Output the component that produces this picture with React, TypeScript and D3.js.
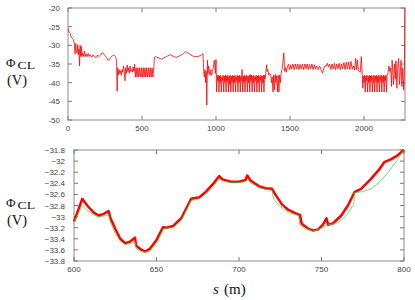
import React from "react";
import * as d3 from "d3";

// top panel: full ring, s (m) vs potential (V)
const topData: [number, number][] = [
  [0, -25.5], [8, -26.5], [15, -26.8], [22, -27.8], [30, -28.2], [38, -28.5], [44, -30], [48, -32.3],
  [52, -29.5], [56, -31.5], [62, -32], [66, -29.8], [70, -32.5], [74, -31], [78, -35.5], [82, -30],
  [86, -33], [90, -30.3], [95, -33], [100, -32], [106, -33], [112, -31.5], [118, -33], [124, -32.3],
  [130, -33], [136, -32.2], [142, -33], [150, -32.5], [160, -33.2], [170, -32.5], [180, -33], [190, -33.3],
  [200, -32.6], [210, -33], [220, -32.6], [230, -32], [240, -32.2], [250, -32.8], [260, -33.2], [270, -34],
  [280, -33.8], [290, -33.2], [300, -32.8], [310, -32.6], [320, -33], [328, -34], [332, -42.3], [336, -36],
  [340, -38], [345, -36.5], [350, -37.5], [355, -36.8], [360, -38], [365, -36.5], [370, -37.2], [375, -35.5],
  [380, -37], [385, -39.5], [390, -36], [395, -37.5], [400, -35.3], [405, -37], [410, -36], [415, -37.5],
  [420, -35.5], [425, -37], [430, -36.5], [435, -37.2], [440, -35.8], [445, -37], [450, -35], [455, -38.5],
  [460, -36], [466, -38.5], [472, -36], [478, -38.5], [484, -36], [490, -38.5], [496, -36], [502, -38.5],
  [508, -36], [514, -38.5], [520, -36], [526, -38.5], [532, -36], [538, -38.5], [544, -36], [550, -38.5],
  [556, -36], [562, -38.5], [568, -36], [574, -38.5], [580, -36], [584, -33.2], [590, -33], [600, -33.2],
  [615, -33.4], [630, -33.7], [645, -33.4], [660, -33.1], [675, -32.8], [690, -32.5], [705, -32.8], [720, -33.1],
  [735, -33.2], [750, -32.9], [765, -32.6], [780, -32.2], [795, -31.7], [810, -32], [825, -32.4], [840, -32.8],
  [855, -33], [870, -33], [885, -32.9], [900, -32.6], [912, -32.2], [918, -37.5], [922, -38.5], [926, -36.5],
  [930, -40], [934, -37], [938, -46], [942, -34], [946, -37.5], [950, -35.5], [955, -37], [960, -38],
  [965, -36.5], [970, -38], [975, -37], [982, -36], [988, -34], [992, -35.5], [996, -37.5], [1000, -33.8],
  [1004, -42.5], [1008, -38], [1012, -39.5], [1016, -38], [1020, -42.5], [1024, -38.2], [1028, -40], [1032, -38],
  [1036, -42.5], [1040, -38.5], [1044, -39.5], [1048, -38], [1052, -42.5], [1056, -38.2], [1060, -40], [1064, -38],
  [1068, -42.5], [1072, -38.3], [1076, -39.5], [1080, -38], [1084, -42.5], [1088, -38.2], [1092, -40.5], [1096, -38],
  [1100, -42.5], [1104, -38.3], [1108, -39.8], [1112, -38], [1116, -42.5], [1120, -38.2], [1124, -40], [1128, -38],
  [1132, -42.5], [1136, -38.4], [1140, -39.5], [1144, -38], [1148, -42.5], [1152, -38.2], [1156, -40], [1160, -38],
  [1164, -42.5], [1168, -38.3], [1172, -39.5], [1176, -36.5], [1180, -42.5], [1184, -38.2], [1188, -40], [1192, -38],
  [1196, -42.5], [1200, -38.3], [1204, -39.5], [1208, -38], [1212, -42.5], [1216, -38.2], [1220, -40], [1224, -38],
  [1228, -42.5], [1232, -37.8], [1236, -39.5], [1240, -38], [1244, -42.5], [1248, -38.2], [1252, -40], [1256, -38],
  [1260, -42.5], [1264, -38.3], [1268, -39.5], [1272, -38], [1276, -42.5], [1280, -38.2], [1284, -40], [1288, -38],
  [1292, -42.5], [1296, -38.3], [1300, -39.5], [1304, -38], [1308, -42.5], [1312, -38.2], [1316, -40], [1320, -38],
  [1324, -42.5], [1328, -38], [1332, -39], [1336, -37.5], [1342, -35.2], [1346, -37], [1350, -36.5], [1356, -38],
  [1362, -37.5], [1370, -38], [1375, -40], [1380, -38.5], [1385, -42.5], [1390, -38], [1395, -42], [1400, -37.8],
  [1405, -40], [1410, -38.2], [1415, -42.5], [1420, -38], [1425, -42.5], [1430, -38], [1435, -40], [1440, -37.5],
  [1446, -36.5], [1452, -34.5], [1458, -32], [1464, -37], [1470, -36], [1476, -37.2], [1482, -35.8], [1490, -35],
  [1497, -36.5], [1505, -35.2], [1512, -36.3], [1520, -35], [1528, -36.5], [1536, -35], [1544, -36.3], [1552, -35],
  [1560, -36.5], [1568, -35.1], [1576, -36.3], [1584, -35], [1592, -36.5], [1600, -35], [1608, -36.3], [1616, -35],
  [1624, -36.5], [1632, -35.1], [1640, -36.3], [1648, -35], [1656, -36.5], [1664, -35.2], [1672, -36.3], [1680, -35.5],
  [1690, -36.5], [1700, -35.5], [1710, -36.5], [1720, -37.5], [1728, -36.2], [1736, -35.5], [1744, -35.6], [1752, -34.8],
  [1760, -35.8], [1768, -35], [1776, -36.5], [1784, -35], [1792, -36.3], [1800, -34.8], [1808, -36.5], [1816, -35],
  [1824, -36.3], [1832, -34.8], [1840, -36.5], [1848, -35], [1856, -36.3], [1864, -34.6], [1872, -36.5], [1880, -34.5],
  [1888, -36.3], [1896, -34.5], [1904, -36.5], [1912, -34.3], [1920, -36.4], [1928, -35.5], [1936, -36.6], [1944, -33.5],
  [1950, -36.5], [1956, -34], [1962, -36.8], [1968, -37], [1975, -37.2], [1982, -33], [1988, -38], [1992, -41.5],
  [1996, -38.2], [2000, -40], [2004, -38], [2008, -42.5], [2012, -38.2], [2016, -39.5], [2020, -38], [2024, -42.5],
  [2028, -38.3], [2032, -40], [2036, -38], [2040, -42.5], [2044, -38.2], [2048, -39.5], [2052, -38], [2056, -42.5],
  [2060, -38.3], [2064, -40], [2068, -38], [2072, -42.5], [2076, -38.2], [2080, -39.5], [2084, -38], [2088, -42.5],
  [2092, -38.3], [2096, -40], [2100, -38], [2104, -42.5], [2108, -38.2], [2112, -39.5], [2116, -38], [2120, -42.5],
  [2124, -38.3], [2128, -40], [2132, -38], [2136, -42.5], [2140, -38.2], [2144, -39.5], [2148, -38], [2152, -42.5],
  [2156, -38], [2162, -37.5], [2168, -35.5], [2174, -37], [2180, -36], [2186, -41], [2190, -34], [2196, -38],
  [2200, -40.5], [2206, -35], [2212, -39], [2216, -34.2], [2222, -41.5], [2228, -36], [2234, -33.5], [2240, -40.5],
  [2246, -37], [2250, -34], [2256, -41], [2262, -36], [2268, -42], [2273, -37], [2276, -20],
];

// bottom panel: zoom on 600-800 m
const lowS = [
  600, 605, 608, 612, 615, 618, 621, 622, 625, 628, 631, 634, 637, 637.6, 640, 643, 646, 650, 654, 656,
  660, 665, 671, 676, 680, 684, 688, 690, 695, 700, 704, 705, 707, 712, 716, 720, 722, 726, 730, 735,
  737, 738, 742, 745, 748, 751, 753, 754, 757, 762, 766, 770, 774, 780, 785, 788, 792, 796, 800,
];
const redV = [
  -33.09, -32.68, -32.8, -32.93, -32.98, -32.95, -32.9, -33.02, -33.22, -33.4, -33.48, -33.45, -33.38, -33.52, -33.58, -33.63, -33.58, -33.42, -33.19, -33.2,
  -33.17, -33.03, -32.68, -32.65, -32.55, -32.42, -32.27, -32.33, -32.37, -32.37, -32.34, -32.26, -32.35, -32.45, -32.49, -32.5, -32.6, -32.78, -32.88, -32.95,
  -32.97, -33.13, -33.22, -33.25, -33.23, -33.14, -33.03, -33.15, -33.12, -32.98, -32.8, -32.56, -32.5, -32.32, -32.15, -32.02, -31.97, -31.9, -31.8,
];
const greenS = [
  600, 605, 608, 612, 615, 618, 621, 622, 625, 628, 631, 634, 637, 637.6, 640, 643, 646, 650, 654, 656,
  660, 665, 671, 676, 680, 684, 688, 690, 695, 700, 704, 705, 707, 712, 716, 720, 721, 725, 730, 736,
  737, 740, 745, 750, 754, 760, 765, 769.5, 770, 775, 780, 785, 790, 795, 800,
];
const greenV = [
  -33.11, -32.8, -32.89, -32.97, -33.01, -32.99, -32.97, -33.1, -33.3, -33.44, -33.5, -33.49, -33.45, -33.57, -33.62, -33.64, -33.62, -33.49, -33.23, -33.21,
  -33.2, -33.07, -32.71, -32.68, -32.59, -32.47, -32.32, -32.36, -32.39, -32.39, -32.37, -32.33, -32.39, -32.48, -32.51, -32.53, -32.68, -32.82, -32.93, -32.98,
  -33.16, -33.21, -33.26, -33.21, -33.15, -33.11, -32.98, -32.78, -32.57, -32.55, -32.5, -32.38, -32.22, -32.02, -31.8,
];

const topXTicks = [0, 500, 1000, 1500, 2000];
const topYTicks = [-20, -25, -30, -35, -40, -45, -50];
const lowXTicks = [600, 650, 700, 750, 800];
const lowYTicks = [-31.8, -32, -32.2, -32.4, -32.6, -32.8, -33, -33.2, -33.4, -33.6, -33.8];

const tickFont = "Liberation Sans, Arial, sans-serif";
const serif = "Liberation Serif, DejaVu Serif, serif";

function Frame({ x, y, yFmt, xTicks, yTicks, labelGap }: any) {
  const [x0, x1] = x.range();
  const [y1, y0] = y.range();
  const t = 4;
  return (
    <g>
      <rect x={x0} y={y0} width={x1 - x0} height={y1 - y0} fill="none" stroke="#8c8c8c" strokeWidth={1} />
      {xTicks.map((v: number) => (
        <g key={"x" + v}>
          <line x1={x(v)} x2={x(v)} y1={y1} y2={y1 - t} stroke="#777" />
          <line x1={x(v)} x2={x(v)} y1={y0} y2={y0 + t} stroke="#777" />
          <text x={x(v)} y={y1 + 11} textAnchor="middle" fontSize={8} fontFamily={tickFont} fill="#444">
            {v}
          </text>
        </g>
      ))}
      {yTicks.map((v: number) => (
        <g key={"y" + v}>
          <line x1={x0} x2={x0 + t} y1={y(v)} y2={y(v)} stroke="#777" />
          <line x1={x1} x2={x1 - t} y1={y(v)} y2={y(v)} stroke="#777" />
          <text x={x0 - labelGap} y={y(v) + 3} textAnchor="end" fontSize={8} fontFamily={tickFont} fill="#444">
            {yFmt(v)}
          </text>
        </g>
      ))}
    </g>
  );
}

function YLabel({ y }: { y: number }) {
  return (
    <g fontFamily={serif} fill="#111">
      <text x={6} y={y} fontSize={13}>Φ</text>
      <text x={17.5} y={y + 2} fontSize={9.5} textLength={17.5} lengthAdjust="spacingAndGlyphs">CL</text>
      <text x={7} y={y + 18} fontSize={14.5}>(V)</text>
    </g>
  );
}

export default function App() {
  const xTop = d3.scaleLinear().domain([0, 2277]).range([68, 405]);
  const yTop = d3.scaleLinear().domain([-50, -20]).range([120, 8]);
  const xLow = d3.scaleLinear().domain([600, 800]).range([74, 404]);
  const yLow = d3.scaleLinear().domain([-33.8, -31.8]).range([261, 150]);

  const topLine = d3
    .line<[number, number]>()
    .x((d) => xTop(d[0]))
    .y((d) => yTop(d[1]));
  const redLine = d3
    .line<number>()
    .x((_, i) => xLow(lowS[i]))
    .y((d) => yLow(d));
  const greenLine = d3
    .line<number>()
    .x((_, i) => xLow(greenS[i]))
    .y((d) => yLow(d));

  return (
    <svg width={415} height={300} style={{ position: "absolute", left: 0, top: 0, background: "#fff" }}>
      <Frame x={xTop} y={yTop} xTicks={topXTicks} yTicks={topYTicks} yFmt={(v: number) => String(v)} labelGap={8} />
      <path d={topLine(topData) || ""} fill="none" stroke="#ff0000" strokeWidth={0.8} strokeLinejoin="round" />
      <YLabel y={67} />

      <Frame x={xLow} y={yLow} xTicks={lowXTicks} yTicks={lowYTicks} yFmt={(v: number) => d3.format("")(+v.toFixed(1))} labelGap={9} />
      <path d={redLine(redV) || ""} fill="none" stroke="#ff0000" strokeWidth={2.5} strokeLinejoin="round" />
      <path d={greenLine(greenV) || ""} fill="none" stroke="#3fd43f" strokeWidth={0.9} strokeOpacity={0.85} />
      <YLabel y={207} />

      <text x={213} y={294} fontFamily={serif} fontSize={15} fontStyle="italic" fill="#111">s</text>
      <text x={224} y={294} fontFamily={serif} fontSize={15} fill="#111">(m)</text>
    </svg>
  );
}
